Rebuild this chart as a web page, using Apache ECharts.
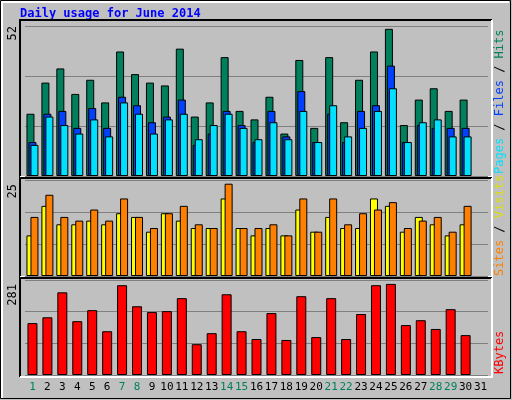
<!DOCTYPE html>
<html><head><meta charset="utf-8">
<script src="https://cdn.jsdelivr.net/npm/echarts@6/dist/echarts.min.js"></script>
<style>html,body{margin:0;padding:0;background:#c0c0c0}#c{width:512px;height:400px}</style>
</head><body><div id="c"></div>
<script>
const days = Array.from({length:31},(_,i)=>String(i+1));
const weekend = [1,7,8,14,15,21,22,28,29];
const hits  = [22,33,38,29,34,26,44,36,33,32,45,21,26,42,23,20,28,15,41,17,42,19,34,44,52,18,27,31,23,27,null];
const files = [12,22,23,17,24,17,28,25,19,21,27,11,15,23,18,12,23,14,30,12,22,12,23,25,39,12,18,17,17,17,null];
const pages = [11,21,18,15,20,14,26,22,15,20,22,13,18,22,17,13,19,13,23,12,25,14,17,23,31,12,19,20,14,14,null];
const sites = [11,19,14,14,15,14,17,16,12,17,15,13,13,21,13,11,13,11,18,12,16,13,13,21,19,12,16,14,11,14,null];
const visits= [16,22,16,15,18,15,21,16,13,17,19,14,13,25,13,13,14,11,21,12,21,14,17,18,20,13,15,16,12,19,null];
const kbytes= [160,178,255,166,200,135,277,212,194,197,237,95,129,249,135,111,191,108,243,117,237,111,188,277,281,154,169,142,203,123,null];
const maxLabels = ['52','25','281'];

const chart = echarts.init(document.getElementById('c'));
const L=25, W=463;
const tops=[26,180,280], hs=[150,96,95], maxes=[53,26,293];
const grids = tops.map((t,i)=>({left:L,top:t,width:W,height:hs[i]}));
const mono='DejaVu Sans Mono';
const xAxis = grids.map((g,i)=>({gridIndex:i,type:'category',data:days,
  axisLine:{show:false},axisTick:{show:false},
  axisLabel:{show:i===2,interval:0,margin:7,fontFamily:mono,fontSize:11,
    color:(v)=>weekend.includes(+v)?'#00805c':'#000'}}));
const yAxis = grids.map((g,i)=>({gridIndex:i,type:'value',min:0,max:maxes[i],interval:maxes[i]/3,
  axisLabel:{show:false},axisLine:{show:false},axisTick:{show:false},
  splitLine:{show:true,lineStyle:{color:'#808080',width:1}}}));
const bs = {borderColor:'#000',borderWidth:1};
const series = [
  {type:'bar',xAxisIndex:0,yAxisIndex:0,data:hits,barWidth:8,barGap:'-75%',itemStyle:{color:'#00805c',...bs}},
  {type:'bar',xAxisIndex:0,yAxisIndex:0,data:files,barWidth:8,barGap:'-75%',itemStyle:{color:'#0040ff',...bs}},
  {type:'bar',xAxisIndex:0,yAxisIndex:0,data:pages,barWidth:8,barGap:'-75%',itemStyle:{color:'#00e0ff',...bs}},
  {type:'bar',xAxisIndex:1,yAxisIndex:1,data:sites,barWidth:8,barGap:'-50%',itemStyle:{color:'#ffff00',...bs}},
  {type:'bar',xAxisIndex:1,yAxisIndex:1,data:visits,barWidth:8,barGap:'-50%',itemStyle:{color:'#ff8000',...bs}},
  {type:'bar',xAxisIndex:2,yAxisIndex:2,data:kbytes,barWidth:10,itemStyle:{color:'#ff0000',...bs}}
];
const graphic=[
  {type:'rect',shape:{x:0.5,y:0.5,width:510,height:398},style:{fill:null,stroke:'#000',lineWidth:1},z:-10},
  {type:'polyline',shape:{points:[[2,398],[2,2],[509,2]]},style:{stroke:'#fff',lineWidth:2,fill:null}},
  {type:'text',left:20,top:8,style:{text:'Daily usage for June 2014',font:'bold 12px '+mono,fill:'#0000ff'}}
];
const frameTop=[20,178,278], frameBot=[177,277,377];
frameTop.forEach((t,i)=>{
  const b=frameBot[i];
  graphic.push({type:'polyline',shape:{points:[[20,b],[20,t],[492,t]]},style:{stroke:'#000',lineWidth:2,fill:null}});
  graphic.push({type:'polyline',shape:{points:[[492,t],[492,b],[20,b]]},style:{stroke:'#fff',lineWidth:2,fill:null}});
  graphic.push({type:'text',x:7,y:t+6,rotation:Math.PI/2,originX:0,originY:0,
    style:{text:maxLabels[i],font:'12px '+mono,fill:'#000',align:'right',verticalAlign:'top'}});
});
function sideLabel(parts,yBottom){
  graphic.push({type:'text',x:494,y:yBottom,rotation:Math.PI/2,originX:0,originY:0,
    style:{rich:Object.fromEntries(parts.map((p,k)=>['s'+k,{fill:p[1],font:'12px '+mono}])),
      text:parts.map((p,k)=>'{s'+k+'|'+p[0]+'}').join(''),align:'left',verticalAlign:'top'}});
}
sideLabel([['Pages','#00e0ff'],[' / ','#000'],['Files','#0040ff'],[' / ','#000'],['Hits','#00805c']],174);
sideLabel([['Sites','#ff8000'],[' / ','#000'],['Visits','#e0e000']],276);
sideLabel([['KBytes','#ff0000']],374);
chart.setOption({animation:false,backgroundColor:'#c0c0c0',grid:grids,xAxis,yAxis,series,graphic});
</script></body></html>
